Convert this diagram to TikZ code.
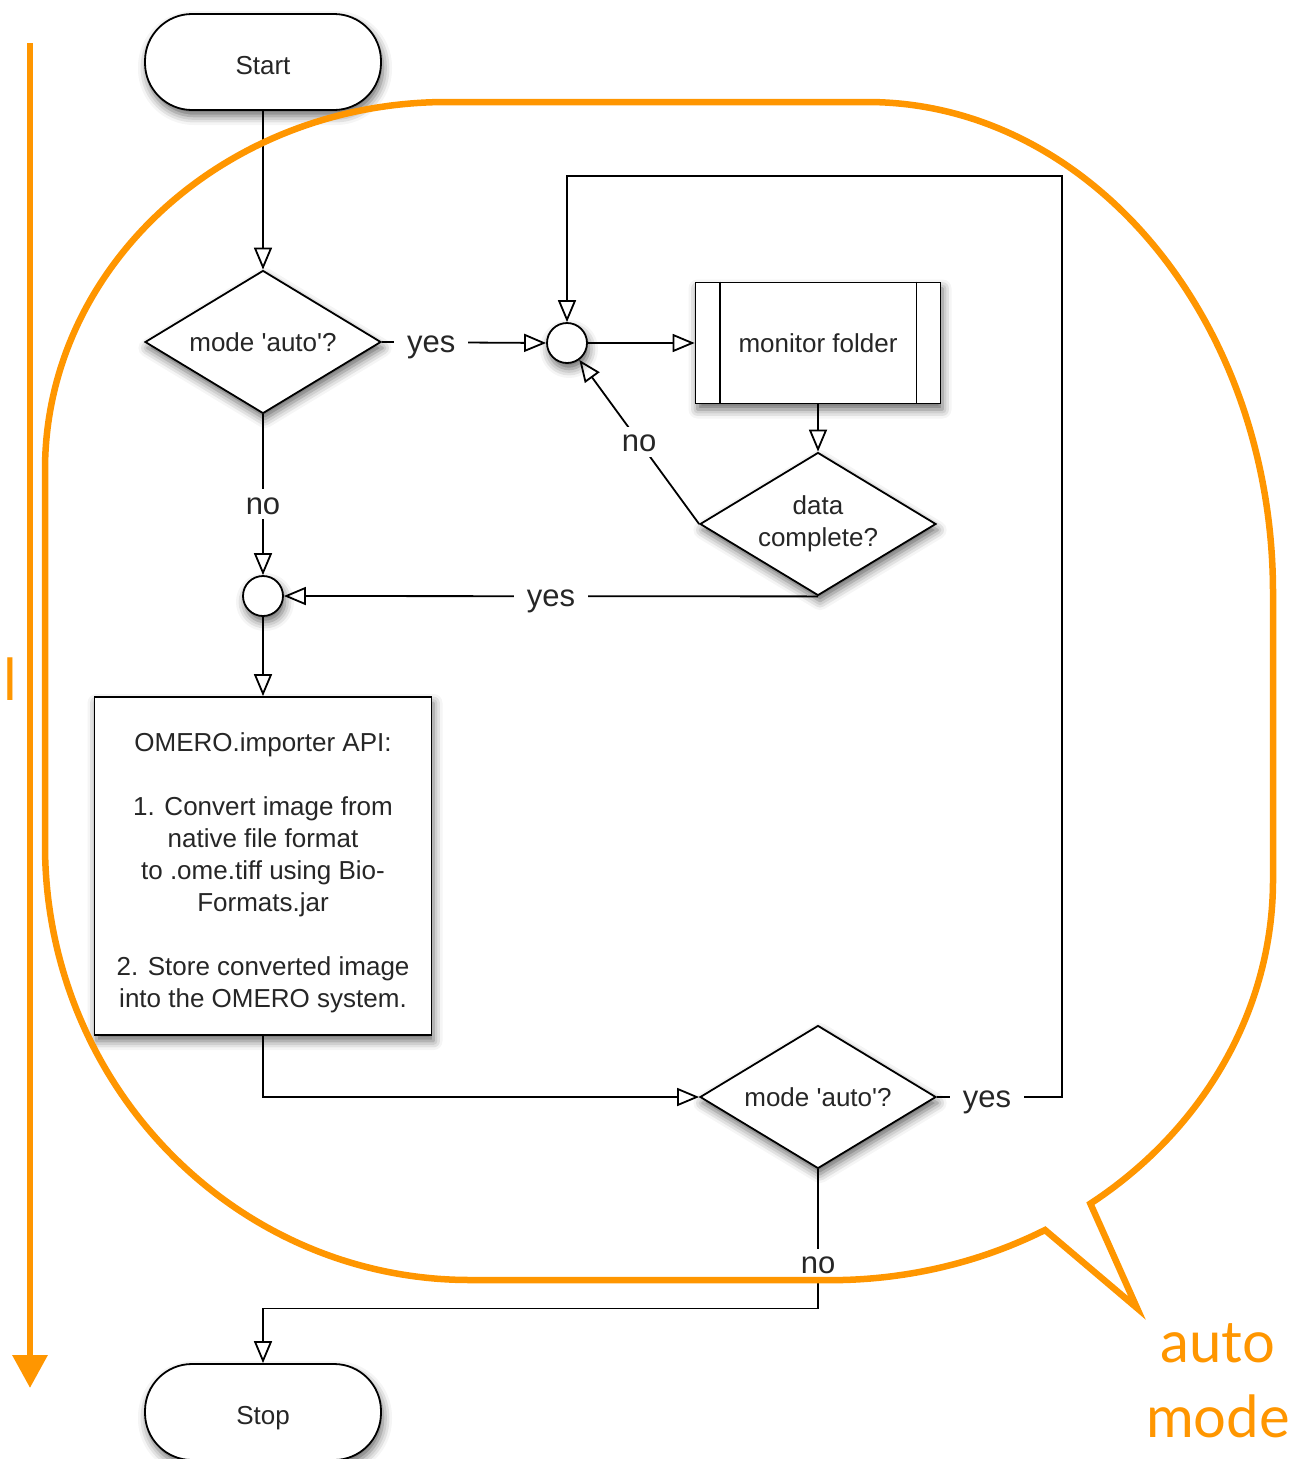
\documentclass[tikz,border=0pt]{standalone}
\usepackage{fontspec}
\setmainfont{Liberation Sans}
\newfontfamily\notefont{Lato}
\usetikzlibrary{arrows.meta, shapes.geometric, shadows.blur}
\definecolor{noteorange}{RGB}{255,150,0}

\begin{document}
\begin{tikzpicture}[
            x=1pt, y=-1pt,
            every node/.style={font=\fontsize{26}{32}\selectfont, text=black!85},
            softshadow/.style={blur shadow={shadow xshift=2pt, shadow yshift=-6pt, shadow blur radius=9pt, shadow opacity=60}},
            box/.style={draw, fill=white, line width=1.8pt, softshadow},
            terminal/.style={box, rectangle, rounded corners=47pt, minimum width=236pt, minimum height=96pt, text height=25pt, text depth=0pt},
            decision/.style={box, diamond, aspect=1.65, inner sep=0pt, minimum width=236pt, minimum height=143pt, align=center},
            junction/.style={box, circle, inner sep=0pt, minimum size=40pt},
            process/.style={box, rectangle, align=center},
            answer/.style={fill=white, inner xsep=13pt, inner ysep=5pt, text height=20pt, text depth=0pt, font=\fontsize{31}{36}\selectfont},
            flow/.style={line width=1.8pt, -{Triangle[open, length=22pt, width=18pt]}},
            bubble/.style={draw=noteorange, line width=6.5pt, line join=miter},
            note/.style={text=noteorange, font=\notefont\fontsize{58}{75}\selectfont}
        ]
        \path[use as bounding box] (0,0) rectangle (1293,1459);
        \clip (0,0) rectangle (1293,1459);

        % flow chart
        \node[terminal] (start) at (263,62) {Start};
        \node[decision] (auto1) at (263,342) {mode \textquotesingle auto\textquotesingle ?};
        \node[junction] (join1) at (567,343) {};
        \node[process, minimum width=245pt, minimum height=121pt] (monitor) at (818,343) {monitor folder};
        \draw[line width=1.8pt] ([xshift=25pt]monitor.north west) -- ([xshift=25pt]monitor.south west)
            ([xshift=-25pt]monitor.north east) -- ([xshift=-25pt]monitor.south east);
        \node[decision] (complete) at (818,524) {data\\complete?};
        \node[junction] (join2) at (263,596) {};
        \node[process, minimum width=337pt, minimum height=338pt] (importer) at (263,866)
            {\rule{0pt}{33pt}OMERO.importer API:\\[32pt]1. Convert image from\\native file format\\to .ome.tiff using Bio-\\Formats.jar\\[32pt]2. Store converted image\\into the OMERO system.};
        \node[decision] (auto2) at (818,1097) {mode \textquotesingle auto\textquotesingle ?};
        \node[terminal] (stop) at (263,1412) {Stop};
        \coordinate (loop) at (1062,176);

        \draw[flow] (start) -- (auto1);
        \draw[flow] (auto1.east) -- node[answer, pos=.3] {yes} (join1.west);
        \draw[flow] (join1) -- (monitor);
        \draw[flow] (monitor) -- (complete);
        \draw[flow] (complete.west) -- node[answer, pos=.5] {no} (join1);
        \draw[flow] (complete.south) -- node[answer] {yes} (join2.east);
        \draw[flow] (auto1.south) -- node[answer, pos=.56] {no} (join2.north);
        \draw[flow] (join2) -- (importer);
        \draw[flow] (importer.south) |- (auto2.west);
        \draw[flow] (auto2.east) -- node[answer, pos=.4] {yes} (auto2.east -| loop) -- (loop) -| (join1.north);
        \draw[flow] (auto2.south) -- node[answer, pos=.68] {no} ++(0,139) -| (stop.north);

        % orange notes
        \coordinate (manualTop) at (30,43);
        \coordinate (manualEnd) at (30,1388);
        \draw[draw=noteorange, line width=6.5pt, -{Triangle[length=33pt, width=34pt]}] (manualTop) -- (manualEnd);
        \node[note, anchor=base east, inner sep=0pt] (manual) at (17,700) {manual};

        \draw[bubble] (447,102) -- (867,102)
            arc[start angle=-90, end angle=0, x radius=406, y radius=491]
            -- (1273,880)
            arc[start angle=0, end angle=54, x radius=443, y radius=400]
            -- (1137,1308) -- (1045,1230)
            arc[start angle=61, end angle=90, x radius=443, y radius=400]
            -- (470,1280)
            arc[start angle=90, end angle=180, x radius=425, y radius=435]
            -- (45,470)
            arc[start angle=180, end angle=270, x radius=402, y radius=368]
            -- cycle;
        \node[note, align=center] (automode) at (1218,1381) {auto\\mode};
    \end{tikzpicture}
\end{document}
